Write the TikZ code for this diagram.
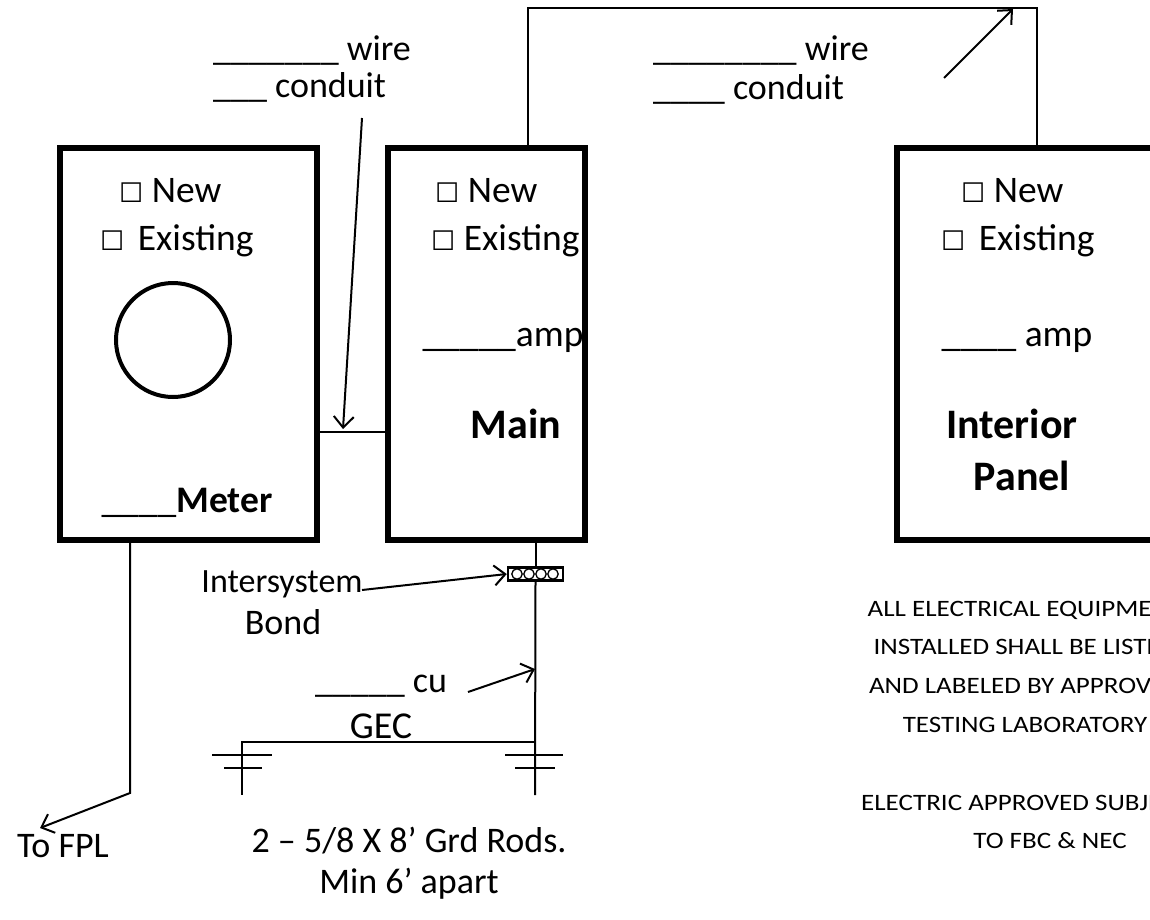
\documentclass[tikz,border=0pt]{standalone}
\usepackage{fontspec}
\usepackage{graphicx}
\setmainfont{Carlito}
\newfontfamily\symfont{DejaVu Sans}
\usetikzlibrary{arrows.meta,calc}
\newcommand\chk{{\symfont\fontsize{27}{30}\selectfont ☐}}
\newcommand\wide[1]{\scalebox{1.15}[1]{#1}}
\begin{document}
\begin{tikzpicture}[x=1pt,y=-1pt,
  box/.style={draw, line width=6pt, minimum height=392pt, inner sep=0pt},
  wire/.style={line width=2pt},
  arr/.style={line width=2pt, -{Straight Barb[length=11pt,width=20pt,line width=2pt]}},
  lbl/.style={font=\fontsize{36}{43}\selectfont, inner sep=0pt},
  blbl/.style={font=\fontsize{37.5}{45}\selectfont, inner sep=0pt},
  bold/.style={font=\fontsize{42}{50}\selectfont\bfseries, inner sep=0pt},
  note/.style={font=\fontsize{23.5}{28}\selectfont, inner sep=0pt},
]
\useasboundingbox (0,0) rectangle (1150,919);
\clip (0,0) rectangle (1150,919);
% boxes
\node[box, minimum width=257pt] (meter) at (188.5,344) {};
\node[box, minimum width=197pt] (main) at (486.5,344) {};
\node[box, minimum width=268pt] (interior) at (1031,344) {};
\node[draw, circle, line width=4pt, minimum size=114pt, inner sep=0pt] (dial) at (173,340) {};
% top labels
\node[lbl, anchor=base west] (w1) at (213,60) {\_\_\_\_\_\_\_ wire};
\node[lbl, anchor=base west] (c1) at (213,97) {\_\_\_ conduit};
\node[lbl, anchor=base west] (w2) at (653,60) {\_\_\_\_\_\_\_\_ wire};
\node[lbl, anchor=base west] (c2) at (653,99) {\_\_\_\_ conduit};
% meter texts
\node[blbl, anchor=base west] (mnew) at (119,202) {\chk\ New};
\node[blbl, anchor=base west] (mex) at (100,250) {\chk\hspace{5pt}\ Existing};
\node[blbl, anchor=base] (mlab) at (187,512) {\_\_\_\_\textbf{Meter}};
% main texts
\node[blbl, anchor=base west] (nnew) at (435,202) {\chk\ New};
\node[blbl, anchor=base west] (nex) at (431,250) {\chk\ Existing};
\node[blbl, anchor=base] (namp) at (503,346) {\_\_\_\_\_amp};
\node[bold, anchor=base] (nlab) at (516,438) {Main};
% interior texts
\node[blbl, anchor=base west] (inew) at (961,202) {\chk\ New};
\node[blbl, anchor=base west] (iex) at (941,250) {\chk\hspace{5pt}\ Existing};
\node[blbl, anchor=base] (iamp) at (1017,346) {\_\_\_\_ amp};
\node[bold, anchor=base] (ilab1) at (1012,438) {Interior};
\node[bold, anchor=base] (ilab2) at (1022,490) {Panel};
% lower labels
\node[lbl, font=\fontsize{34}{41}\selectfont, anchor=base] (isb1) at (282,592) {Intersystem};
\node[lbl, anchor=base] (isb2) at (283,634) {Bond};
\node[lbl, anchor=base] (cu) at (381,692) {\_\_\_\_\_ cu};
\node[lbl, font=\fontsize{38}{45}\selectfont, anchor=base] (gec) at (381,738) {GEC};
\node[lbl, anchor=base] (rods1) at (409,852) {2 – 5/8 X 8’ Grd Rods.};
\node[lbl, anchor=base] (rods2) at (409,893) {Min 6’ apart};
\node[lbl, anchor=base] (fpl) at (63,857) {To FPL};
% right note
\node[note, anchor=base] (n1) at (1025,616) {\wide{ALL ELECTRICAL EQUIPMENT}};
\node[note, anchor=base] (n2) at (1025,654) {\wide{INSTALLED SHALL BE LISTED}};
\node[note, anchor=base] (n3) at (1025,693) {\wide{AND LABELED BY APPROVED}};
\node[note, anchor=base] (n4) at (1025,732) {\wide{TESTING LABORATORY}};
\node[note, anchor=base] (n5) at (1025,810) {\wide{ELECTRIC APPROVED SUBJECT}};
\node[note, anchor=base] (n6) at (1050,848) {\wide{TO FBC \& NEC}};
% coordinates
\coordinate (tl) at (528,8);
\coordinate (tr) at (1037,8);
\coordinate (ta) at (944,78);
\coordinate (tb) at (1013,9);
\coordinate (ca) at (362,118);
\coordinate (cb) at (343,429);
\coordinate (fc) at (130,793);
\coordinate (fe) at (40,828);
\coordinate (bt) at (362,590);
\coordinate (cua) at (468,692);
\coordinate (cub) at (535,669);
\coordinate (gj) at (535,742);
\coordinate (rgb) at (535,795);
\coordinate (lg) at (242,742);
\coordinate (lgb) at (242,795);
% bond block
\node[draw, fill=white, line width=2.5pt, minimum width=55pt, minimum height=13pt, inner sep=0pt] (bond) at (535.5,574) {};
\foreach \cx in {517,529,541,553} \draw[line width=1.3pt] (\cx,574) circle[radius=5.2pt];
% connectors
\draw[wire] ([yshift=-88pt]meter.east) -- ([yshift=-88pt]main.west);
\draw[wire] (main.north -| tl) -- (tl) -- (tr) -- (interior.north -| tr);
\draw[arr] (ta) -- (tb);
\draw[arr] (ca) -- (cb);
\draw[arr] (meter.south -| fc) -- (fc) -- (fe);
\draw[wire] (main.south -| bond) -- (bond.north);
\draw[wire] (bond.south) -- (rgb);
\draw[wire] (gj) -- (lg) -- (lgb);
\draw[arr] (bt) -- (bond.west);
\draw[arr] (cua) -- (cub);
% ground symbols
\draw[wire] ($(lg)+(-30,13)$) -- ($(lg)+(30,13)$);
\draw[wire] ($(lg)+(-18,26)$) -- ($(lg)+(20,26)$);
\draw[wire] ($(gj)+(-30,13)$) -- ($(gj)+(28,13)$);
\draw[wire] ($(gj)+(-20,26)$) -- ($(gj)+(20,26)$);
\end{tikzpicture}
\end{document}
